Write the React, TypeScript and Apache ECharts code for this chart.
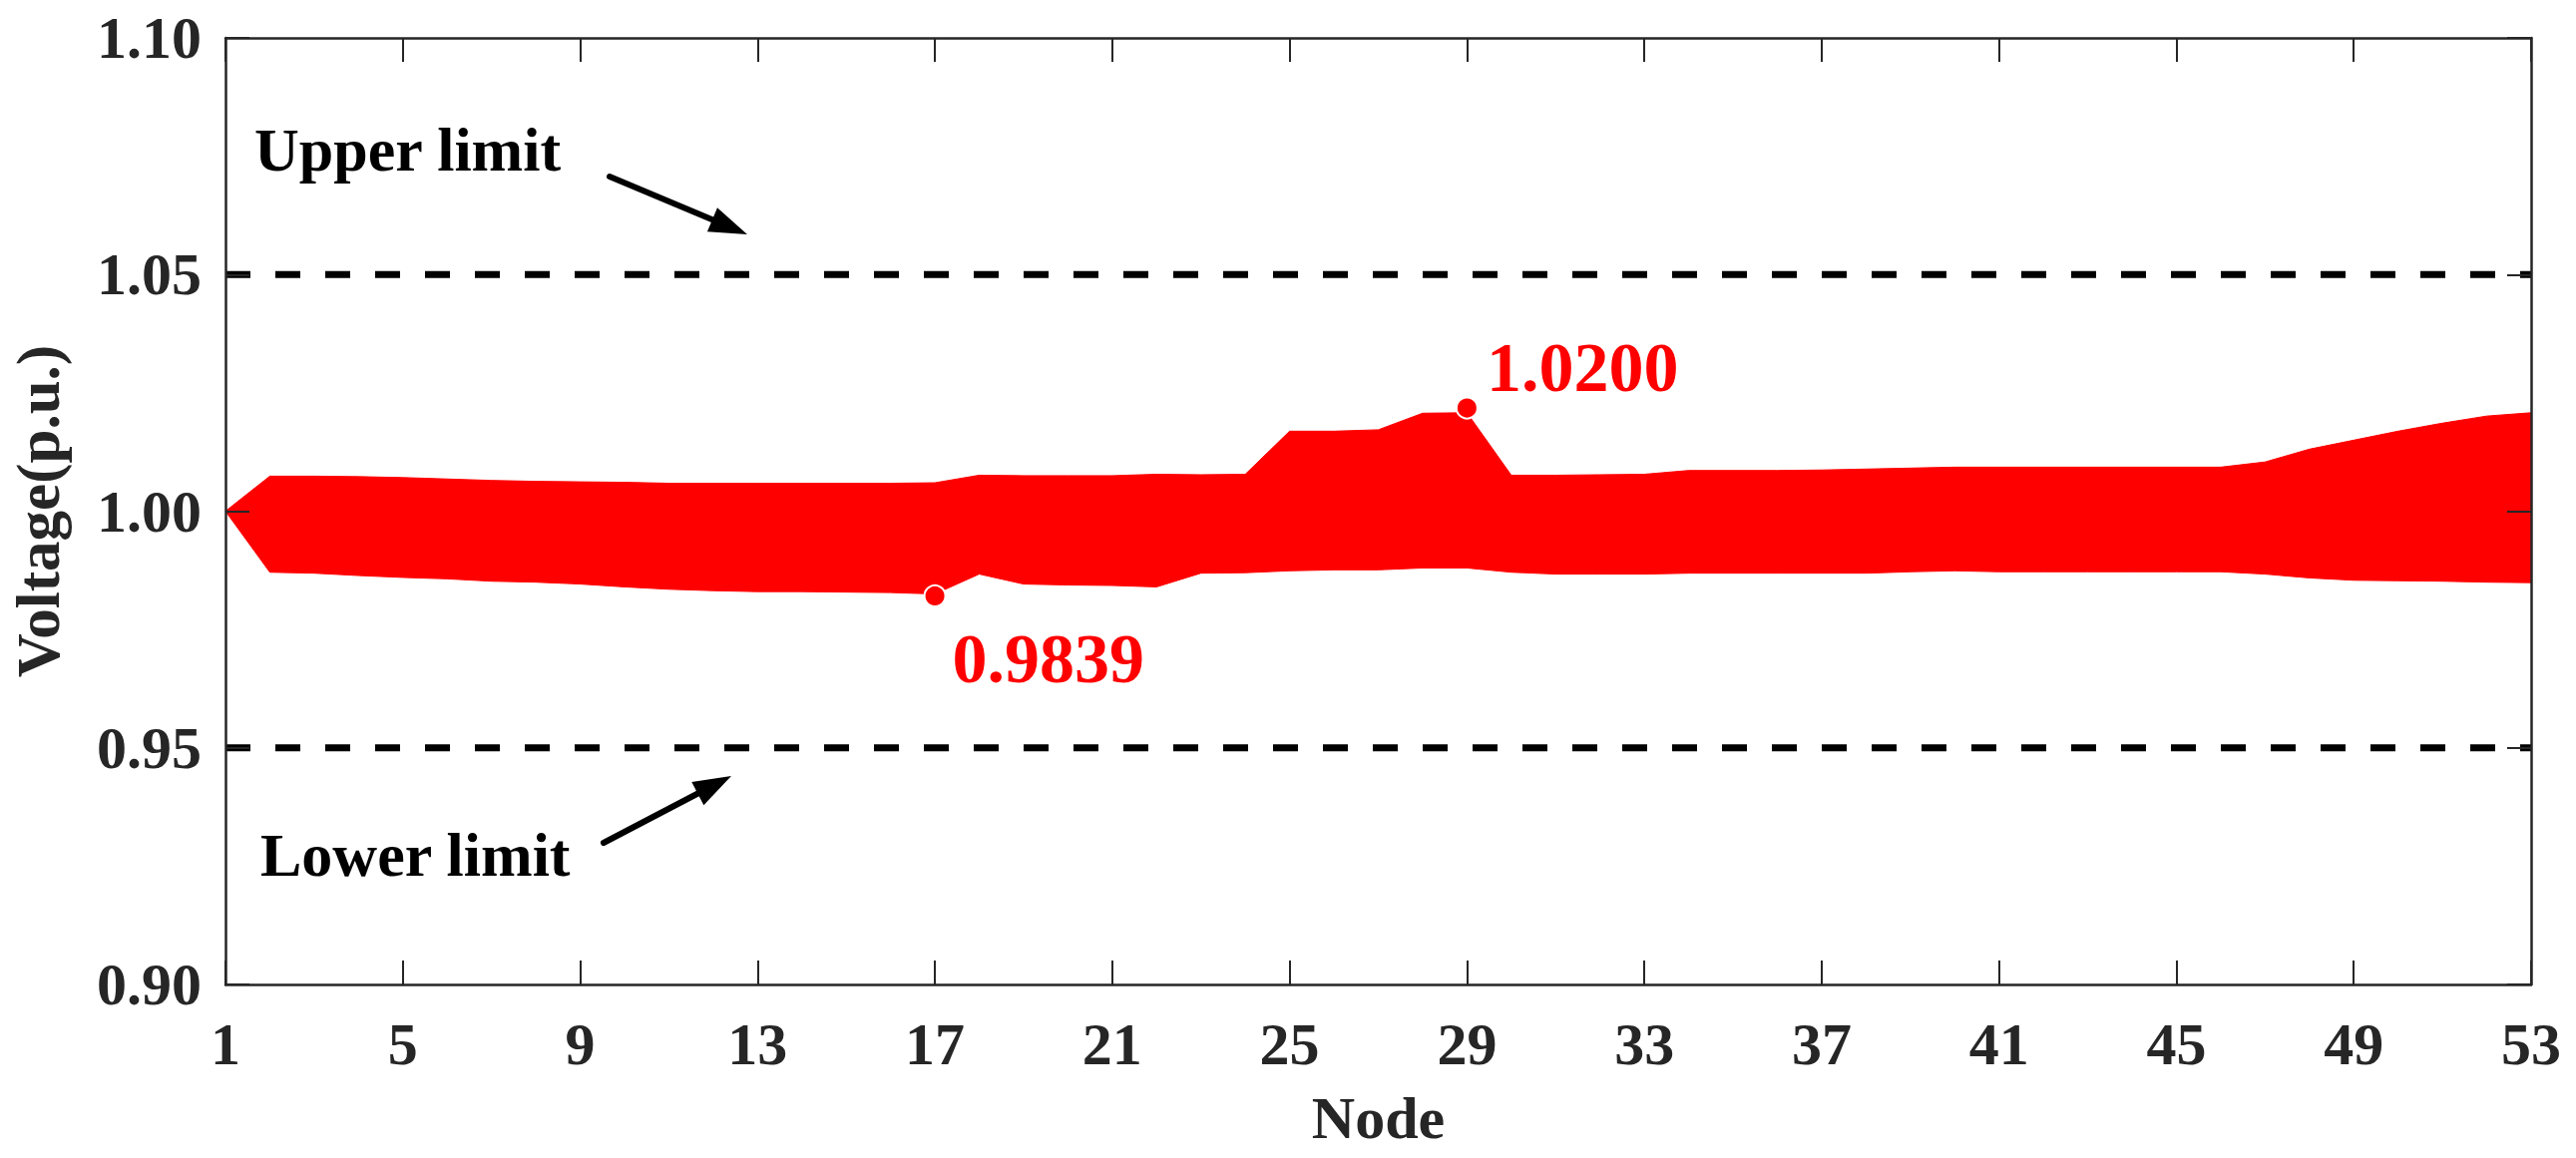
import React, { useEffect, useRef } from "react";
import * as echarts from "echarts";

// Voltage envelope per node (p.u.)
const upperV = [
  1.0000, 1.0074, 1.0074, 1.0073, 1.0071, 1.0068, 1.0065, 1.0063, 1.0062, 1.0061,
  1.0059, 1.0059, 1.0059, 1.0059, 1.0059, 1.0059, 1.0060, 1.0076, 1.0075, 1.0075,
  1.0075, 1.0078, 1.0077, 1.0078, 1.0169, 1.0169, 1.0172, 1.0207, 1.0208, 1.0076,
  1.0076, 1.0077, 1.0078, 1.0086, 1.0086, 1.0086, 1.0087, 1.0089, 1.0091, 1.0093,
  1.0093, 1.0093, 1.0093, 1.0093, 1.0093, 1.0093, 1.0104, 1.0131, 1.0150, 1.0169,
  1.0186, 1.0201, 1.0208,
];
const lowerV = [
  1.0000, 0.9871, 0.9869, 0.9864, 0.9860, 0.9857, 0.9852, 0.9850, 0.9846, 0.9840,
  0.9835, 0.9832, 0.9830, 0.9830, 0.9829, 0.9828, 0.9825, 0.9867, 0.9846, 0.9844,
  0.9843, 0.9840, 0.9869, 0.9870, 0.9874, 0.9876, 0.9876, 0.9880, 0.9880, 0.9871,
  0.9867, 0.9867, 0.9867, 0.9869, 0.9869, 0.9869, 0.9869, 0.9869, 0.9872, 0.9874,
  0.9872, 0.9872, 0.9872, 0.9872, 0.9872, 0.9872, 0.9867, 0.9859, 0.9854, 0.9853,
  0.9852, 0.9850, 0.9849,
];
const nodes = upperV.map((_, i) => i + 1);

const limitValues = [1.05, 0.95];
const limitNames = ["Upper limit", "Lower limit"];

const extremeNodes = [29, 17];
const extremeValues = [1.0218, 0.9821];
const extremeLabels = ["1.0200", "0.9839"];

const yTicks = [0.9, 0.95, 1.0, 1.05, 1.1];

const FONT = "'Liberation Serif', 'Times New Roman', serif";
const AXIS_COLOR = "#262626";
const RED = "#ff0000";

function arrow(x1: number, y1: number, x2: number, y2: number) {
  const dx = x2 - x1;
  const dy = y2 - y1;
  const len = Math.sqrt(dx * dx + dy * dy);
  const ux = dx / len;
  const uy = dy / len;
  const hl = 38;
  const hw = 13;
  const bx = x2 - ux * hl;
  const by = y2 - uy * hl;
  const px = -uy;
  const py = ux;
  return [
    {
      type: "line",
      z: 100,
      shape: { x1, y1, x2: bx + ux * 4, y2: by + uy * 4 },
      style: { stroke: "#000", lineWidth: 6, lineCap: "round" },
    },
    {
      type: "polygon",
      z: 100,
      shape: {
        points: [
          [x2, y2],
          [bx + px * hw, by + py * hw],
          [bx - px * hw, by - py * hw],
        ],
      },
      style: { fill: "#000" },
    },
  ];
}

export default function App() {
  const ref = useRef<HTMLDivElement>(null);
  useEffect(() => {
    if (!ref.current) return;
    const chart = echarts.init(ref.current, undefined, { renderer: "svg" });

    const bandData = nodes.map((n, i) => [n, lowerV[i], upperV[i]]);

    const axisCommon = {
      min: 1,
      max: 53,
      interval: 4,
      z: 10,
      axisLine: { show: true, lineStyle: { color: AXIS_COLOR, width: 2.5 } },
      axisTick: { show: true, inside: true, length: 24, lineStyle: { color: AXIS_COLOR, width: 2 } },
      splitLine: { show: false },
    };
    const yCommon = {
      min: 0.9,
      max: 1.1,
      interval: 0.05,
      z: 10,
      axisLine: { show: true, lineStyle: { color: AXIS_COLOR, width: 2.5 } },
      axisTick: { show: true, inside: true, length: 24, lineStyle: { color: AXIS_COLOR, width: 2 } },
      splitLine: { show: false },
    };

    const option: any = {
      animation: false,
      backgroundColor: "#fff",
      grid: { left: 217, right: 45, top: 38, bottom: 174, containLabel: false },
      xAxis: [
        {
          type: "value",
          position: "bottom",
          ...axisCommon,
          name: "Node",
          nameLocation: "middle",
          nameGap: 104,
          nameTextStyle: { fontFamily: FONT, fontWeight: "bold", fontSize: 60, color: AXIS_COLOR },
          axisLabel: {
            show: true,
            margin: 30,
            fontFamily: FONT,
            fontWeight: "bold",
            fontSize: 60,
            color: AXIS_COLOR,
          },
        },
        {
          type: "value",
          position: "top",
          ...axisCommon,
          axisLabel: { show: false },
        },
      ],
      yAxis: [
        {
          type: "value",
          position: "left",
          ...yCommon,
          name: "Voltage(p.u.)",
          nameLocation: "middle",
          nameGap: 157,
          nameTextStyle: { fontFamily: FONT, fontWeight: "bold", fontSize: 61, color: AXIS_COLOR },
          axisLabel: {
            show: true,
            margin: 24,
            fontFamily: FONT,
            fontWeight: "bold",
            fontSize: 60,
            color: AXIS_COLOR,
            formatter: (v: number) => {
              const t = yTicks.find((k) => Math.abs(k - v) < 1e-9);
              return (t !== undefined ? t : v).toFixed(2);
            },
          },
        },
        {
          type: "value",
          position: "right",
          ...yCommon,
          axisLabel: { show: false },
        },
      ],
      series: [
        {
          name: "band",
          type: "custom",
          data: bandData,
          encode: { x: 0, y: [1, 2] },
          z: 3,
          renderItem: (params: any, api: any) => {
            if (params.dataIndex !== 0) return null;
            const top = nodes.map((n, i) => api.coord([n, upperV[i]]));
            const bottom = nodes.map((n, i) => api.coord([n, lowerV[i]])).reverse();
            return {
              type: "polygon",
              shape: { points: top.concat(bottom) },
              style: { fill: RED, stroke: RED, lineWidth: 1 },
            };
          },
        },
        ...limitValues.map((v, i) => ({
          name: limitNames[i],
          type: "line",
          data: [
            [1, v],
            [53, v],
          ],
          symbol: "none",
          lineStyle: { color: "#000", width: 7, type: [25, 25] },
          z: 2,
        })),
        {
          name: "extremes",
          type: "scatter",
          data: extremeNodes.map((n, i) => ({
            value: [n, extremeValues[i]],
            label: { offset: i === 0 ? [3, -41] : [1, 63] },
          })),
          symbolSize: 21,
          itemStyle: { color: RED, borderColor: "#fff", borderWidth: 2, opacity: 1 },
          label: {
            show: true,
            position: "right",
            formatter: (p: any) => extremeLabels[p.dataIndex],
            fontFamily: FONT,
            fontWeight: "bold",
            fontSize: 70,
            color: RED,
          },
          z: 5,
        },
      ],
      graphic: [
        {
          type: "text",
          z: 100,
          left: 255,
          top: 119,
          style: {
            text: limitNames[0],
            fontFamily: FONT,
            fontWeight: "bold",
            fontSize: 62,
            fill: "#000",
          },
        },
        {
          type: "text",
          z: 100,
          left: 261,
          top: 826,
          style: {
            text: limitNames[1],
            fontFamily: FONT,
            fontWeight: "bold",
            fontSize: 62,
            fill: "#000",
          },
        },
        ...arrow(611, 177, 749, 235),
        ...arrow(605, 845, 733, 778),
      ],
    };

    chart.setOption(option);
    return () => chart.dispose();
  }, []);

  return (
    <div
      ref={ref}
      style={{ position: "fixed", left: 0, top: 0, width: 2582, height: 1161, background: "#fff" }}
    />
  );
}
